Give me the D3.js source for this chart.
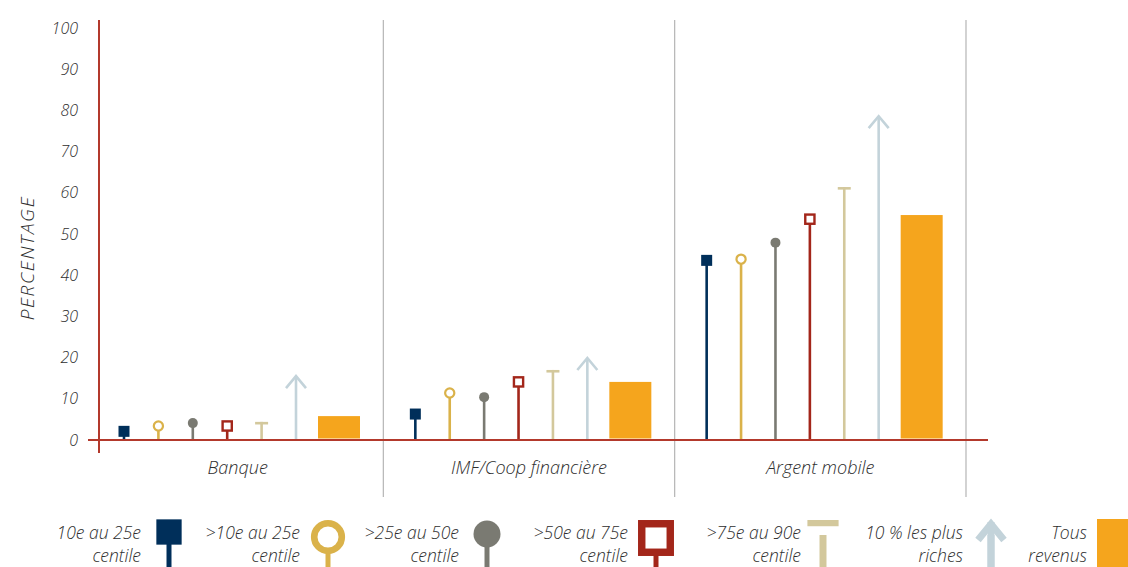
<!DOCTYPE html>
<html>
<head>
<meta charset="utf-8">
<script src="https://cdn.jsdelivr.net/npm/d3@7"></script>
<style>
  body { margin: 0; background: #fff; }
  text { font-family: "Open Sans", Lato, sans-serif; font-style: italic; font-weight: 300; fill: #2e2e2e; }
</style>
</head>
<body>
<script>
const groups = ["Banque", "IMF/Coop financière", "Argent mobile"]
const seriesKeys = ["p10_25", "p10_25b", "p25_50", "p50_75", "p75_90", "top10"]
const seriesLabels = [
  ["10e au 25e", "centile"],
  [">10e au 25e", "centile"],
  [">25e au 50e", "centile"],
  [">50e au 75e", "centile"],
  [">75e au 90e", "centile"],
  ["10 % les plus", "riches"],
  ["Tous", "revenus"]
]
// values per group, in the order of seriesKeys
const banque = [2.1, 3.4, 4.1, 3.4, 4.4, 15.5]
const imf = [6.3, 11.4, 10.4, 14.1, 17, 19.9]
const argent = [43.6, 43.9, 47.9, 53.6, 61.4, 78.6]
const tousRevenus = [5.8, 14.1, 54.6]
const yTicks = [0, 10, 20, 30, 40, 50, 60, 70, 80, 90, 100]

const colors = ["#002f5a", "#dab24a", "#7a7a72", "#a3261a", "#d3c89c", "#c3d3da", "#f5a51d"]
const axisColor = "#b3392c"

const width = 1128, height = 567
const svg = d3.select("body").append("svg")
  .attr("width", width).attr("height", height)

const y = d3.scaleLinear().domain([0, 100]).range([440, 28])
const x = d3.scaleBand().domain(groups).range([92, 966])
const xi = d3.scalePoint().domain(seriesKeys).range([32, 204])

const values = [banque, imf, argent]

// group separators
svg.append("g").selectAll("line")
  .data(groups)
  .join("line")
    .attr("x1", d => x(d) + x.bandwidth()).attr("x2", d => x(d) + x.bandwidth())
    .attr("y1", 20).attr("y2", 497)
    .attr("stroke", "#b5b5b5").attr("stroke-width", 1.2)

// y tick labels
svg.append("g").selectAll("text")
  .data(yTicks)
  .join("text")
    .attr("x", 78).attr("y", d => y(d))
    .attr("dy", "0.35em")
    .attr("text-anchor", "end")
    .attr("font-size", 16)
    .text(d => d)

svg.append("text")
  .attr("transform", `translate(34,258) rotate(-90)`)
  .attr("text-anchor", "middle")
  .attr("font-size", 19)
  .attr("letter-spacing", 1.6)
  .text("PERCENTAGE")

// group labels
svg.append("g").selectAll("text")
  .data(groups)
  .join("text")
    .attr("x", d => x(d) + x.bandwidth() / 2)
    .attr("y", 474)
    .attr("text-anchor", "middle")
    .attr("font-size", 18)
    .text(d => d)

// bars "Tous revenus"
svg.append("g").selectAll("rect")
  .data(groups)
  .join("rect")
    .attr("x", d => x(d) + 226)
    .attr("width", 42)
    .attr("y", (d, i) => y(tousRevenus[i]))
    .attr("height", (d, i) => y(0) - 1.5 - y(tousRevenus[i]))
    .attr("fill", colors[6])

// stems and markers
const pts = []
groups.forEach((g, gi) => seriesKeys.forEach((k, si) => {
  pts.push({ g, k, si, v: values[gi][si] })
}))

const gm = svg.append("g")
gm.selectAll("line.stem")
  .data(pts)
  .join("line")
    .attr("class", "stem")
    .attr("x1", d => x(d.g) + xi(d.k)).attr("x2", d => x(d.g) + xi(d.k))
    .attr("y1", y(0)).attr("y2", d => y(d.v))
    .attr("stroke", d => colors[d.si])
    .attr("stroke-width", 2.6)

function marker(sel, d, s) {
  const c = colors[d.si]
  if (d.si === 0) {
    sel.append("rect").attr("x", -5.5 * s).attr("y", -5.5 * s)
      .attr("width", 11 * s).attr("height", 11 * s).attr("fill", c)
  } else if (d.si === 1) {
    sel.append("circle").attr("r", 4.6 * s).attr("fill", "#fff")
      .attr("stroke", c).attr("stroke-width", 2.2 * s)
  } else if (d.si === 2) {
    sel.append("circle").attr("r", 5 * s).attr("fill", c)
  } else if (d.si === 3) {
    sel.append("rect").attr("x", -4.6 * s).attr("y", -4.6 * s)
      .attr("width", 9.2 * s).attr("height", 9.2 * s).attr("fill", "#fff")
      .attr("stroke", c).attr("stroke-width", 2.4 * s)
  } else if (d.si === 4) {
    sel.append("line").attr("x1", -6.5 * s).attr("x2", 6.5 * s)
      .attr("y1", 1.3 * s).attr("y2", 1.3 * s)
      .attr("stroke", c).attr("stroke-width", 2.6 * s)
  } else if (d.si === 5) {
    sel.append("path").attr("d", `M${-10 * s},${12 * s}L0,0L${10 * s},${12 * s}`)
      .attr("fill", "none").attr("stroke", c).attr("stroke-width", 2.6 * s)
  }
}

gm.selectAll("g.mk")
  .data(pts)
  .join("g")
    .attr("class", "mk")
    .attr("transform", d => `translate(${x(d.g) + xi(d.k)},${y(d.v)})`)
    .each(function(d) { marker(d3.select(this), d, 1) })

// axes
svg.append("line")
  .attr("x1", 88).attr("x2", 988).attr("y1", y(0)).attr("y2", y(0))
  .attr("stroke", axisColor).attr("stroke-width", 2)
svg.append("line")
  .attr("x1", 99).attr("x2", 99).attr("y1", 20).attr("y2", 453)
  .attr("stroke", axisColor).attr("stroke-width", 2)

// legend
const legendX = [169, 328, 487, 656, 823, 991, 1113]
const legend = svg.append("g").selectAll("g")
  .data(seriesLabels)
  .join("g")
    .attr("transform", (d, i) => `translate(${legendX[i]},0)`)

legend.append("text")
  .attr("x", (d, i) => i === 4 ? -22 : (i === 6 ? -26 : -28))
  .attr("y", 539)
  .attr("text-anchor", "end")
  .attr("font-size", 17.5)
  .selectAll("tspan")
  .data(d => d)
  .join("tspan")
    .attr("x", function() { return d3.select(this.parentNode).attr("x") })
    .attr("dy", (d, i) => i === 0 ? 0 : 23)
    .text(d => d)

legend.each(function(d, i) {
  const g = d3.select(this)
  const c = colors[i]
  if (i === 6) {
    g.append("rect").attr("x", -16).attr("y", 519).attr("width", 31).attr("height", 48).attr("fill", c)
    return
  }
  const stemW = i === 4 || i === 5 ? 7 : 5
  g.append("line").attr("x1", 0).attr("x2", 0).attr("y1", 535).attr("y2", 567)
    .attr("stroke", c).attr("stroke-width", stemW)
  if (i === 5) {
    g.append("path").attr("d", "M-13,540L0,524L13,540")
      .attr("fill", "none").attr("stroke", c).attr("stroke-width", 7)
      .attr("stroke-linejoin", "miter")
    g.append("line").attr("x1", 0).attr("x2", 0).attr("y1", 522).attr("y2", 567)
      .attr("stroke", c).attr("stroke-width", 7)
    return
  }
  const mk = g.append("g")
  if (i === 0) mk.attr("transform", "translate(0,532)")
  if (i === 1) mk.attr("transform", "translate(0,537)")
  if (i === 2) mk.attr("transform", "translate(0,534)")
  if (i === 3) mk.attr("transform", "translate(0,538)")
  if (i === 4) mk.attr("transform", "translate(0,520)")
  const s = [2.3, 3, 2.7, 3.1, 2.4][i]
  marker(mk, { si: i }, s)
})
</script>
</body>
</html>
